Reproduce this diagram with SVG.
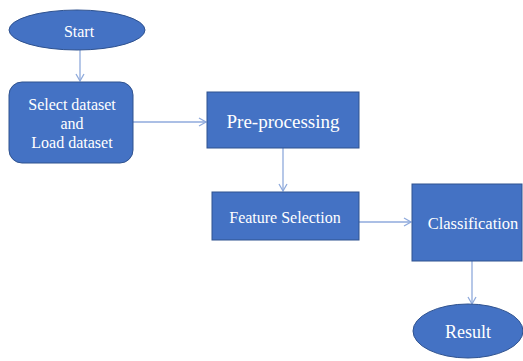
<svg xmlns="http://www.w3.org/2000/svg" width="523" height="361" viewBox="0 0 523 361">
<style>
.n{fill:#4472C4;stroke:#2F528F;stroke-width:1}
.t{fill:#fff;font-family:"Liberation Serif","Times New Roman",serif;text-anchor:middle}
.c{stroke:#8FAADC;stroke-width:1.3;fill:none}
</style>
<defs>
<marker id="a" markerWidth="10" markerHeight="10" refX="8" refY="5" orient="auto" markerUnits="userSpaceOnUse">
<path d="M1,1 L8,5 L1,9" fill="none" stroke="#8FAADC" stroke-width="1.3"/>
</marker>
</defs>
<rect width="523" height="361" fill="#fff"/>
<g id="connectors">
<line class="c" x1="80" y1="50" x2="80" y2="81" marker-end="url(#a)"/>
<line class="c" x1="133" y1="122" x2="206" y2="122" marker-end="url(#a)"/>
<line class="c" x1="283" y1="148" x2="283" y2="191" marker-end="url(#a)"/>
<line class="c" x1="359" y1="222" x2="411" y2="222" marker-end="url(#a)"/>
<line class="c" x1="472" y1="261" x2="472" y2="304" marker-end="url(#a)"/>
</g>
<g id="start">
<ellipse class="n" cx="77" cy="30" rx="68" ry="20"/>
<text class="t" x="79" y="37" font-size="16">Start</text>
</g>
<g id="select">
<rect class="n" x="9" y="82" width="124" height="81" rx="13"/>
<text class="t" x="72" y="110" font-size="16">Select dataset</text>
<text class="t" x="72" y="129" font-size="16">and</text>
<text class="t" x="72" y="148" font-size="16">Load dataset</text>
</g>
<g id="preprocessing">
<rect class="n" x="207" y="92" width="152" height="56"/>
<text class="t" x="283" y="128" font-size="19">Pre-processing</text>
</g>
<g id="feature">
<rect class="n" x="212" y="192" width="147" height="48"/>
<text class="t" x="285" y="223" font-size="16">Feature Selection</text>
</g>
<g id="classification">
<rect class="n" x="412" y="184" width="110" height="77"/>
<text class="t" x="473" y="229" font-size="16.5">Classification</text>
</g>
<g id="result">
<ellipse class="n" cx="468" cy="331" rx="55" ry="27"/>
<text class="t" x="468" y="338" font-size="18">Result</text>
</g>
</svg>
